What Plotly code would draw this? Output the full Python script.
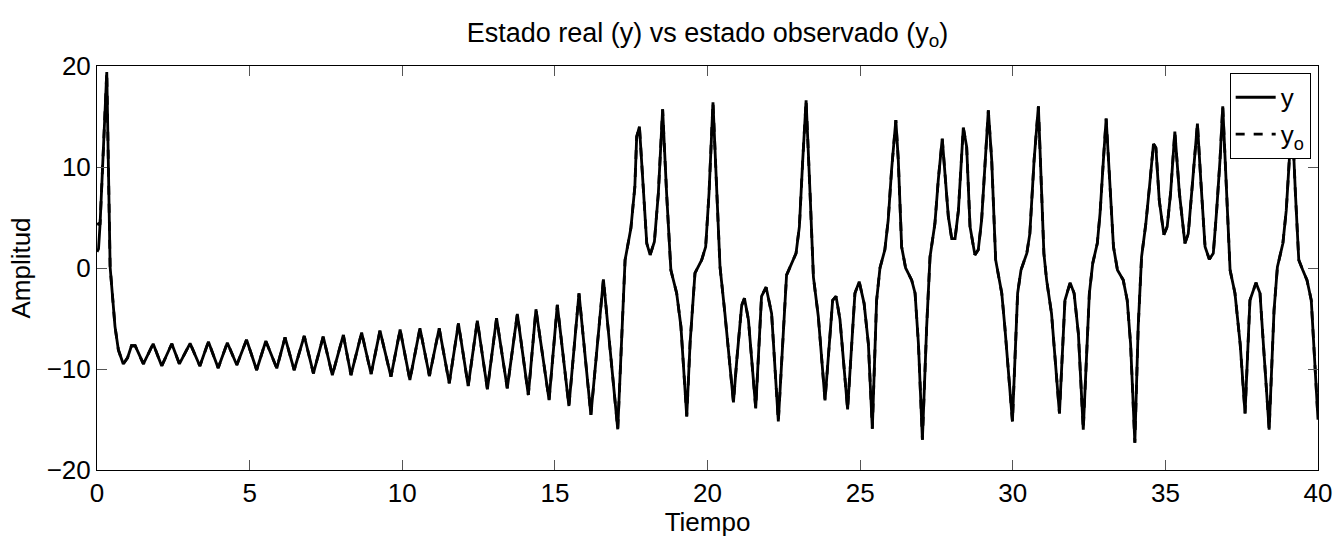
import plotly.graph_objects as go

# time samples (vertices)
t = [0.0, 0.05, 0.10, 0.21, 0.32, 0.43, 0.59, 0.70, 0.86, 1.0, 1.13, 1.25, 1.52, 1.84, 2.12, 2.45, 2.70,
     3.05, 3.37, 3.65, 3.97, 4.27, 4.58, 4.90,
     5.23, 5.53, 5.89, 6.16, 6.46, 6.79, 7.09, 7.41, 7.71, 8.07, 8.32, 8.67, 8.98, 9.27, 9.63, 9.93,
     10.25, 10.58, 10.89, 11.21, 11.54, 11.84, 12.16, 12.46, 12.79, 13.09, 13.44, 13.77, 14.13, 14.38,
     14.81, 15.08,
     15.46, 15.79, 16.18, 16.59, 17.06, 17.30, 17.49, 17.62, 17.68, 17.77, 17.90, 18.01, 18.12, 18.26,
     18.39, 18.53, 18.66, 18.80, 18.99, 19.13, 19.32, 19.43, 19.59, 19.81, 19.94, 20.05, 20.18, 20.30,
     20.41, 20.57, 20.71, 20.85, 20.96, 21.12, 21.21, 21.34, 21.58, 21.77, 21.92, 22.10, 22.32, 22.59,
     22.90, 23.01, 23.12, 23.23, 23.36, 23.47, 23.63, 23.85, 24.10, 24.21, 24.34, 24.59, 24.83, 24.97,
     25.13, 25.27, 25.40, 25.54, 25.65, 25.81, 25.92, 26.03, 26.17, 26.25, 26.36, 26.49, 26.69, 26.80,
     26.91, 27.04, 27.18, 27.29, 27.45, 27.56, 27.69, 27.78, 27.89, 28.00, 28.11, 28.22, 28.38, 28.49,
     28.60, 28.76, 28.87, 28.98, 29.09, 29.20, 29.31, 29.44, 29.64, 29.74, 29.99, 30.16, 30.27, 30.46,
     30.56, 30.70, 30.84, 30.95, 31.02, 31.11, 31.27, 31.53, 31.71, 31.88, 32.01, 32.15, 32.31, 32.51,
     32.62, 32.77, 32.86, 32.97, 33.06, 33.17, 33.30, 33.43, 33.62, 33.75, 33.86, 34.00, 34.11, 34.22,
     34.36, 34.48, 34.61, 34.69, 34.80, 34.95, 35.06, 35.17, 35.31, 35.46, 35.64, 35.75, 35.86, 36.05,
     36.16, 36.30, 36.44, 36.57, 36.68, 36.79, 36.88, 37.01, 37.12, 37.28, 37.45, 37.61, 37.77, 37.97,
     38.10, 38.21, 38.40, 38.56, 38.67, 38.85, 38.96, 39.06, 39.15, 39.26, 39.37, 39.50, 39.64, 39.78,
     40.0]

# real state y
y = [1.6, 1.9, 4.3, 12.3, 19.4, 0.1, -5.8, -8.1, -9.5, -8.9, -7.7, -7.7, -9.5, -7.5, -9.7, -7.5, -9.5,
     -7.46, -9.7, -7.3, -9.9, -7.4, -9.6, -7.1,
     -10.1, -7.23, -9.93, -6.86, -10.1, -6.73, -10.43, -6.8, -10.6, -6.63, -10.6, -6.4, -10.5, -6.2,
     -10.76, -6.1,
     -11.09, -5.97, -10.69, -5.97, -11.42, -5.48, -11.68, -5.21, -12.0, -4.98, -11.9, -4.55, -12.57,
     -4.09, -13.07, -3.66,
     -13.66, -2.51, -14.55, -1.12, -15.97, 0.79, 3.93, 8.05, 13.0, 14.0, 7.4, 2.44, 1.29, 2.6,
     7.4, 15.7, 7.4, -0.2, -2.5, -5.8, -14.7, -7.4, -0.5, 0.8, 2.1, 7.4, 16.4, 7.4,
     0.1, -4.5, -9.1, -13.3, -9.1, -3.7, -3.0, -5.1, -13.9, -2.8, -1.9, -4.5, -15.2, -0.7,
     1.45, 4.1, 10.7, 16.6, 7.4, -0.9, -4.8, -13.1, -3.2, -2.8, -5.1, -14.0, -2.5, -1.35,
     -3.5, -7.5, -15.9, -3.2, 0.0, 1.8, 4.75, 9.7, 14.65, 10.7, 2.1, 0.0, -1.2, -2.5,
     -7.5, -17.0, -5.8, 1.1, 4.4, 8.7, 12.8, 9.4, 5.1, 2.9, 2.9, 5.7, 13.9, 12.0,
     4.1, 1.3, 1.8, 4.75, 10.7, 15.6, 10.7, 0.8, -2.5, -5.8, -15.2, -2.5, -0.2, 1.45,
     3.4, 10.7, 16.0, 7.4, 1.45, -1.2, -4.5, -14.4, -3.2, -1.45, -2.5, -6.5, -16.0, -2.5,
     0.46, 2.45, 5.4, 10.7, 14.8, 9.0, 2.1, -0.2, -1.2, -3.2, -7.5, -17.3, -5.8, 1.1,
     4.4, 8.05, 12.3, 11.9, 6.7, 3.3, 4.1, 7.4, 13.5, 7.4, 2.45, 3.4, 7.4, 14.3,
     8.7, 2.1, 0.86, 1.45, 5.7, 10.7, 16.0, 7.4, -0.2, -2.5, -7.5, -14.4, -3.2, -1.45,
     -2.5, -7.5, -16.0, -4.2, 0.1, 2.45, 5.7, 10.7, 15.0, 7.4, 0.8, -0.2, -1.2, -3.2,
     -15.0]

# observed state y_o: different start, then converges to y
yo_head = [4.3, 4.4]
yo = yo_head + y[len(yo_head):]

x_ticks = [0, 5, 10, 15, 20, 25, 30, 35, 40]
y_ticks = [-20, -10, 0, 10, 20]

FONT = "Liberation Sans, Arial, Helvetica, sans-serif"
FS = 26

fig = go.Figure()
fig.add_trace(go.Scatter(x=t, y=y, mode="lines", name="y",
                         line=dict(color="black", width=2.8)))
fig.add_trace(go.Scatter(x=t, y=yo, mode="lines", name="y<sub>o</sub>",
                         line=dict(color="black", width=2.8, dash="dash")))

axis_common = dict(showline=True, linecolor="black", linewidth=1, mirror="allticks",
                   ticks="inside", ticklen=10, tickcolor="#555555", tickwidth=1,
                   showgrid=False, zeroline=False,
                   tickfont=dict(family=FONT, size=FS, color="black"))

fig.update_layout(
    width=1344, height=537,
    margin=dict(l=97, r=26, t=66, b=67),
    paper_bgcolor="white", plot_bgcolor="white",
    font=dict(family=FONT, color="black", size=FS),
    title=dict(text="Estado real (y) vs estado observado (y<sub>o</sub>)",
               x=0.5, xref="paper", xanchor="center", y=0.94, yanchor="middle",
               font=dict(family=FONT, size=27, color="black")),
    xaxis=dict(range=[0, 40], tickvals=x_ticks,
               title=dict(text="Tiempo", font=dict(family=FONT, size=FS), standoff=0),
               **axis_common),
    yaxis=dict(range=[-20, 20], tickvals=y_ticks,
               title=dict(text="Amplitud", font=dict(family=FONT, size=FS), standoff=8),
               **axis_common),
    legend=dict(x=0.994, y=0.983, xanchor="right", yanchor="top",
                bgcolor="white", bordercolor="black", borderwidth=1,
                font=dict(family=FONT, size=FS, color="black"),
                tracegroupgap=0, itemwidth=40),
    showlegend=True,
)

fig.write_html("out.html")
